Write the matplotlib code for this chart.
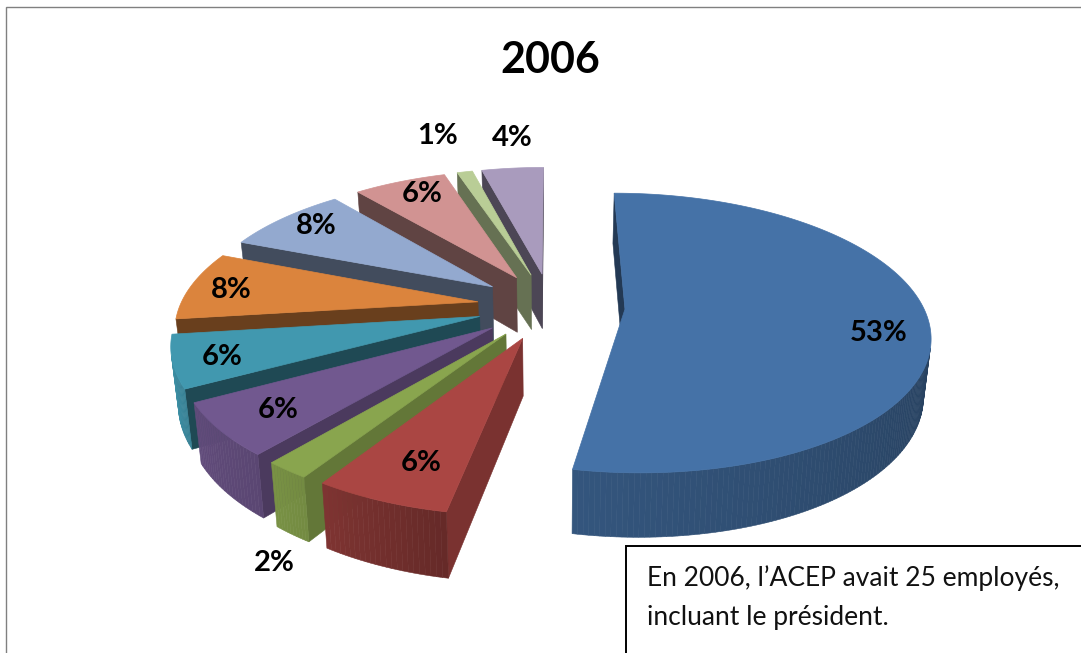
import numpy as np
import matplotlib
matplotlib.use('Agg')
import matplotlib.pyplot as plt
from matplotlib.patches import Polygon, Rectangle

title = '2006'
values = [53, 6, 2, 6, 6, 8, 8, 6, 1, 4]
colors = ['#4572A7', '#AA4643', '#89A54E', '#71588F', '#4198AF',
          '#DB843D', '#93A9CF', '#D19392', '#B9CD96', '#A99BBD']
# shade of the outer wall at the start and end of each slice
wall_shade = [(0.36, 0.75), (0.60, 0.74), (0.84, 0.88), (0.80, 0.86), (0.85, 1.0),
              (0.9, 0.9), (0.9, 0.9), (0.9, 0.9), (0.9, 0.9), (0.9, 0.9)]
side_shade = [0.5, 0.72, 0.72, 0.66, 0.48, 0.48, 0.45, 0.46, 0.55, 0.45]
label_x = [879, 421, 274, 278, 222, 231, 316, 422, 438, 512]
label_y = [333, 463, 563, 410, 357, 290, 226, 194, 136, 138]
note = ['En 2006, l\u2019ACEP avait 25 employ\u00e9s,', 'incluant le pr\u00e9sident.']

cx, cy = 551, 306
radius = 298
explode = 74
tilt = 0.452
persp = 0.00057
height = 56


def project(x, y, low=False):
    s = 1 / (1 - persp * y)
    if low:
        return cx + x * s * 0.98, cy + tilt * y * s * 0.98 + height * s
    return cx + x * s, cy + tilt * y * s


def shaded(color, f):
    rgb = np.array(matplotlib.colors.to_rgb(color))
    return tuple(rgb * f)


def quad(ax, pts, color):
    pts = np.array(pts)
    # only faces turned to the viewer
    x, y = pts[:, 0], pts[:, 1]
    area = np.sum(x * np.roll(y, -1) - np.roll(x, -1) * y)
    if area > 0:
        ax.add_patch(Polygon(pts, closed=True, facecolor=color, edgecolor=color, lw=0.4))


fig = plt.figure(figsize=(10.81, 6.53), dpi=100)
ax = fig.add_axes([0, 0, 1, 1])
ax.set_xlim(0, 1081)
ax.set_ylim(653, 0)
ax.axis('off')

ax.add_patch(Rectangle((6, 7), 1200, 800, facecolor='white', edgecolor='#808080', lw=1))

edges = np.cumsum([0] + values) / sum(values) * 2 * np.pi
mids = (edges[:-1] + edges[1:]) / 2
order = np.argsort(-np.cos(mids))

for i in order:
    t0, t1 = edges[i], edges[i + 1]
    ox = explode * np.sin(mids[i])
    oy = -explode * np.cos(mids[i])
    th = np.linspace(t0, t1, max(int(values[i] * 4), 12))
    rx = ox + radius * np.sin(th)
    ry = oy - radius * np.cos(th)

    # straight walls
    for a, sign in [(len(th) - 1, 1), (0, -1)]:
        p0 = project(ox, oy)
        p1 = project(rx[a], ry[a])
        p2 = project(rx[a], ry[a], True)
        p3 = project(ox, oy, True)
        face = [p0, p1, p2, p3] if sign > 0 else [p3, p2, p1, p0]
        quad(ax, face, shaded(colors[i], side_shade[i]))

    # rim wall, cut in small pieces for the gradient
    for k in range(len(th) - 1):
        f = np.interp(k, [0, len(th) - 2], wall_shade[i])
        face = [project(rx[k], ry[k]), project(rx[k], ry[k], True),
                project(rx[k + 1], ry[k + 1], True), project(rx[k + 1], ry[k + 1])]
        quad(ax, face, shaded(colors[i], f))

    top = [project(ox, oy)] + [project(a, b) for a, b in zip(rx, ry)]
    ax.add_patch(Polygon(top, closed=True, facecolor=colors[i], edgecolor=colors[i], lw=0.5))

for v, x, y in zip(values, label_x, label_y):
    ax.text(x, y, f'{v}%', ha='center', va='center', fontsize=21, fontweight='bold',
            family='Lato', color='black')

ax.text(550, 60, title, ha='center', va='center', fontsize=31, fontweight='bold',
        family='Lato', color='black')

ax.add_patch(Rectangle((626, 546), 600, 300, facecolor='white', edgecolor='black', lw=1.4))
ax.text(647, 578, note[0], ha='left', va='center', fontsize=19, family='Lato', color='#111111')
ax.text(647, 617, note[1], ha='left', va='center', fontsize=19, family='Lato', color='#111111')

fig.savefig('out.png', dpi=100)
